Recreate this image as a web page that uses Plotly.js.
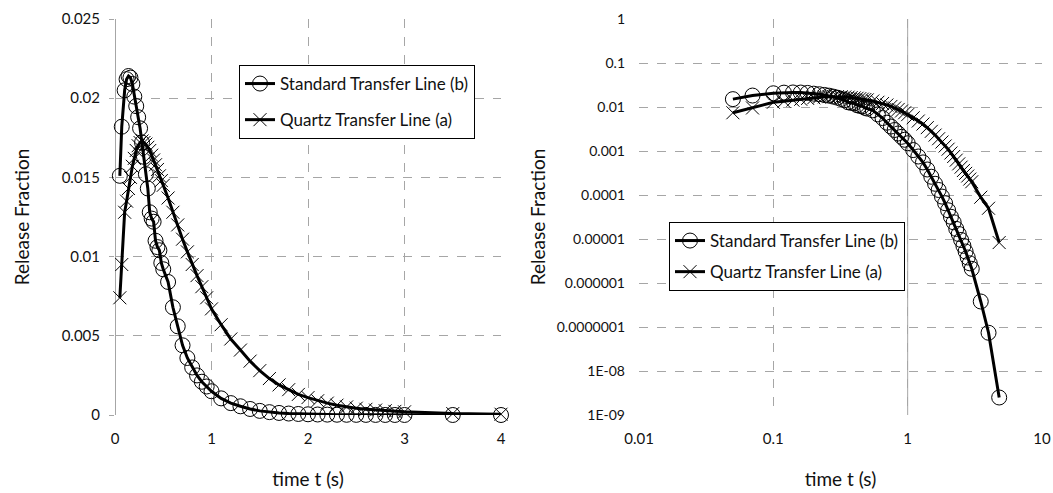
<!DOCTYPE html>
<html>
<head>
<meta charset="utf-8">
<script src="https://cdn.plot.ly/plotly-3.0.1.min.js"></script>
<style>
  html, body { margin: 0; padding: 0; background: #fff; }
  #chart { width: 1053px; height: 493px; }
</style>
</head>
<body>
<div id="chart"></div>
<script>
// time t (s)
const timeS = [0.05, 0.07, 0.10, 0.12, 0.14, 0.16, 0.18, 0.20, 0.22, 0.24, 0.26, 0.28, 0.30,
  0.32, 0.34, 0.36, 0.38, 0.40, 0.42, 0.44, 0.46, 0.48, 0.50, 0.55, 0.60, 0.65, 0.70, 0.75,
  0.80, 0.85, 0.90, 0.95, 1.00, 1.1, 1.2, 1.3, 1.4, 1.5, 1.6, 1.7, 1.8, 1.9, 2.0, 2.1, 2.2,
  2.3, 2.4, 2.5, 2.6, 2.7, 2.8, 2.9, 3.0, 3.5, 4.0, 4.8];

// Standard Transfer Line (b)
const standardB = [0.0151, 0.0182, 0.0205, 0.0212, 0.0214, 0.0213, 0.0209, 0.0201, 0.0195,
  0.0188, 0.0181, 0.0172, 0.0163, 0.0152, 0.0143, 0.0128, 0.0124, 0.0122, 0.0110, 0.0106,
  0.0104, 0.0096, 0.0092, 0.0084, 0.0068, 0.0056, 0.0044, 0.0036, 0.0030, 0.0025, 0.0021,
  0.0018, 0.0015, 0.00105, 0.00075, 0.00055, 0.00038, 0.00026, 0.00018, 0.00013, 0.000092,
  0.000065, 0.000045, 0.000032, 0.000024, 0.000017, 0.000013, 0.0000095, 0.0000070,
  0.0000052, 0.0000038, 0.0000028, 0.0000021, 3.8e-7, 7.4e-8, 2.5e-9];

// Quartz Transfer Line (a)
const quartzA = [0.0074, 0.0095, 0.0128, 0.0135, 0.0143, 0.0150, 0.0157, 0.0162, 0.0167,
  0.0170, 0.0172, 0.0173, 0.0172, 0.0171, 0.0169, 0.0167, 0.0164, 0.0161, 0.0158, 0.0155,
  0.0151, 0.0148, 0.0145, 0.0137, 0.0128, 0.0120, 0.0111, 0.0103, 0.0095, 0.0088, 0.0081,
  0.0074, 0.0067, 0.0057, 0.0048, 0.0041, 0.0034, 0.0028, 0.0023, 0.0019, 0.0016, 0.0013,
  0.0011, 0.00090, 0.00075, 0.00062, 0.00051, 0.00043, 0.00036, 0.00031, 0.00027, 0.00023,
  0.00020, 0.000089, 0.00005, 0.0000083];

const nameB = 'Standard Transfer Line (b)';
const nameA = 'Quartz Transfer Line (a)';

const linTickVals = [0, 0.005, 0.01, 0.015, 0.02, 0.025];
const linTickText = ['0', '0.005', '0.01', '0.015', '0.02', '0.025'];
const logTickVals = [1, 0.1, 0.01, 0.001, 0.0001, 0.00001, 0.000001, 0.0000001, 1e-8, 1e-9];
const logTickText = ['1', '0.1', '0.01', '0.001', '0.0001', '0.00001', '0.000001', '0.0000001', '1E-08', '1E-09'];
const logXVals = [0.01, 0.1, 1, 10];
const logXText = ['0.01', '0.1', '1', '10'];

const FONT = 'Lato, "Open Sans", "Liberation Sans", sans-serif';
const GRID = '#a6a6a6';
const TXT = '#111';

// left plot shows t <= 4
const leftIdx = timeS.map((t, i) => i).filter(i => timeS[i] <= 4);
const pick = (arr) => leftIdx.map(i => arr[i]);

const circleMarker = { symbol: 'circle-open', size: 15, color: '#000', line: { width: 1, color: '#000' } };
const crossMarker = { symbol: 'x-thin-open', size: 13, color: '#000', line: { width: 1, color: '#000' } };
const lineStyle = { color: '#000', width: 3 };

const traces = [
  { x: pick(timeS), y: pick(standardB), name: nameB, mode: 'lines+markers', xaxis: 'x', yaxis: 'y',
    line: lineStyle, marker: circleMarker, cliponaxis: false, legend: 'legend', legendgroup: 'b1' },
  { x: pick(timeS), y: pick(quartzA), name: nameA, mode: 'lines+markers', xaxis: 'x', yaxis: 'y',
    line: lineStyle, marker: crossMarker, cliponaxis: false, legend: 'legend', legendgroup: 'a1' },
  { x: timeS, y: standardB, name: nameB, mode: 'lines+markers', xaxis: 'x2', yaxis: 'y2',
    line: lineStyle, marker: circleMarker, cliponaxis: false, legend: 'legend2', legendgroup: 'b2' },
  { x: timeS, y: quartzA, name: nameA, mode: 'lines+markers', xaxis: 'x2', yaxis: 'y2',
    line: lineStyle, marker: crossMarker, cliponaxis: false, legend: 'legend2', legendgroup: 'a2' }
];

const titleFont = { family: FONT, size: 19, color: TXT };
const axisCommon = {
  showgrid: true, gridcolor: GRID, griddash: 'dash', gridwidth: 1,
  showline: false, tickfont: { family: FONT, size: 15, color: TXT },
  layer: 'below traces'
};

const layout = {
  width: 1053, height: 493,
  margin: { l: 0, r: 0, t: 0, b: 0 },
  paper_bgcolor: '#fff', plot_bgcolor: '#fff',
  font: { family: FONT, color: TXT },
  showlegend: true,
  xaxis: Object.assign({}, axisCommon, {
    domain: [115 / 1053, 501 / 1053], range: [0, 4], tickvals: [0, 1, 2, 3, 4],
    zeroline: true, zerolinecolor: GRID, zerolinewidth: 1,
    ticks: '', ticklabelstandoff: 13,
    title: { text: 'time t (s)', font: titleFont, standoff: 26 },
    anchor: 'y'
  }),
  yaxis: Object.assign({}, axisCommon, {
    domain: [1 - 415 / 493, 1 - 19 / 493], range: [0, 0.025],
    tickvals: linTickVals, ticktext: linTickText, zeroline: false,
    ticks: 'outside', ticklen: 5, tickcolor: GRID, ticklabelstandoff: 6,
    title: { text: 'Release Fraction', font: titleFont, standoff: 27 },
    anchor: 'x'
  }),
  xaxis2: Object.assign({}, axisCommon, {
    domain: [639 / 1053, 1042 / 1053], type: 'log', range: [-2, 1],
    tickvals: logXVals, ticktext: logXText, zeroline: false,
    ticks: '', ticklabelstandoff: 13,
    title: { text: 'time t (s)', font: titleFont, standoff: 26 },
    anchor: 'y2'
  }),
  yaxis2: Object.assign({}, axisCommon, {
    domain: [1 - 415 / 493, 1 - 19 / 493], type: 'log', range: [-9, 0],
    tickvals: logTickVals, ticktext: logTickText, zeroline: false,
    ticks: '', ticklabelstandoff: 13,
    tickfont: { family: FONT, size: 14, color: TXT },
    title: { text: 'Release Fraction', font: titleFont, standoff: 6 },
    anchor: 'x2'
  }),
  legend: {
    x: 239 / 1053, y: 1 - 65 / 493, xanchor: 'left', yanchor: 'top',
    bgcolor: '#fff', bordercolor: '#000', borderwidth: 1,
    font: { family: FONT, size: 17, color: TXT },
    traceorder: 'grouped', tracegroupgap: 11, itemwidth: 30
  },
  legend2: {
    x: 669 / 1053, y: 1 - 222 / 493, xanchor: 'left', yanchor: 'top',
    bgcolor: '#fff', bordercolor: '#000', borderwidth: 1,
    font: { family: FONT, size: 17, color: TXT },
    traceorder: 'grouped', tracegroupgap: 6, itemwidth: 30
  },
  shapes: [
    { type: 'line', xref: 'x2', yref: 'y2 domain', x0: 1, x1: 1, y0: 0, y1: 1,
      line: { color: GRID, width: 1 }, layer: 'below' }
  ]
};

Plotly.newPlot('chart', traces, layout, { staticPlot: true, displayModeBar: false });
</script>
</body>
</html>
